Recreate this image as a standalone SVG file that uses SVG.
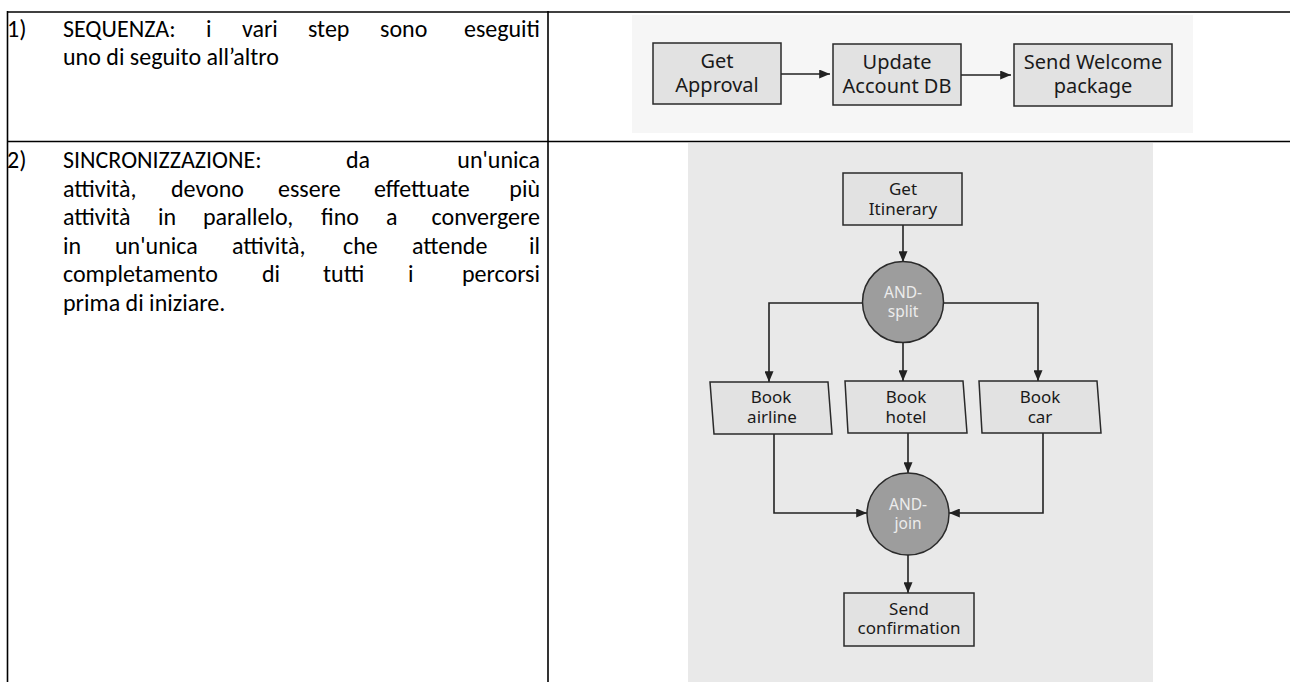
<svg xmlns="http://www.w3.org/2000/svg" width="1290" height="682" viewBox="0 0 1290 682">
<style>
.body{font-family:Carlito,Lato,"Open Sans",sans-serif;font-size:24px;fill:#000}
.end{text-anchor:end}
.grid{stroke:#000;stroke-width:1.6;fill:none}
.box{fill:#e2e2e2;stroke:#2a2a2a;stroke-width:1.5}
.lbl{font-family:"Noto Sans","Open Sans",sans-serif;fill:#1a1a1a;text-anchor:middle}
.l1{font-size:20px}
.l2{font-size:17px}
.gate{fill:#9d9d9d;stroke:#2a2a2a;stroke-width:1.5}
.gtxt{font-family:"Noto Sans","Open Sans",sans-serif;font-size:15.5px;fill:#ececec;text-anchor:middle}
.edge{stroke:#222;stroke-width:1.6;fill:none;marker-end:url(#ah)}
</style>
<defs>
<marker id="ah" viewBox="0 0 12 10" refX="12" refY="5" markerWidth="12" markerHeight="9" markerUnits="userSpaceOnUse" orient="auto">
<path d="M0,0 L12,5 L0,10 z" fill="#222"/>
</marker>
</defs>
<rect width="1290" height="682" fill="#fff"/>
<g id="scan-backgrounds">
<rect x="632" y="15" width="561" height="118" fill="#f6f6f6"/>
<rect x="688" y="143" width="465" height="539" fill="#e9e9e9"/>
</g>
<g id="table">
<line class="grid" x1="7.5" y1="11" x2="7.5" y2="682"/>
<line class="grid" x1="7" y1="12" x2="1290" y2="12"/>
<line class="grid" x1="7" y1="141.5" x2="1290" y2="141.5"/>
<line class="grid" x1="548" y1="11" x2="548" y2="682"/>
</g>
<g id="text-row1">
<text class="body" x="7" y="37">1)</text>
<text class="body" y="37"><tspan x="63">SEQUENZA:</tspan><tspan x="206">i</tspan><tspan x="242">vari</tspan><tspan x="308">step</tspan><tspan x="380">sono</tspan></text>
<text class="body end" x="540" y="37">eseguiti</text>
<text class="body" x="63" y="65">uno di seguito all’altro</text>
</g>
<g id="text-row2">
<text class="body" x="7" y="168">2)</text>
<text class="body" y="168"><tspan x="63">SINCRONIZZAZIONE:</tspan><tspan x="346">da</tspan></text>
<text class="body end" x="540" y="168">un'unica</text>
<text class="body" y="196.5"><tspan x="63">attività,</tspan><tspan x="171">devono</tspan><tspan x="278">essere</tspan><tspan x="374">effettuate</tspan></text>
<text class="body end" x="540" y="196.5">più</text>
<text class="body" y="225"><tspan x="63">attività</tspan><tspan x="158">in</tspan><tspan x="203">parallelo,</tspan><tspan x="321">fino</tspan><tspan x="386">a</tspan></text>
<text class="body end" x="540" y="225">convergere</text>
<text class="body" y="253.5"><tspan x="63">in</tspan><tspan x="115">un'unica</tspan><tspan x="232">attività,</tspan><tspan x="343">che</tspan><tspan x="412">attende</tspan></text>
<text class="body end" x="540" y="253.5">il</text>
<text class="body" y="282"><tspan x="63">completamento</tspan><tspan x="262">di</tspan><tspan x="323">tutti</tspan><tspan x="408">i</tspan></text>
<text class="body end" x="540" y="282">percorsi</text>
<text class="body" x="63" y="310.5">prima di iniziare.</text>
</g>
<g id="connectors">
<path class="edge" d="M781,74 H830"/>
<path class="edge" d="M961,75 H1011"/>
<path class="edge" d="M903,225 V262"/>
<path class="edge" d="M863,303 H769 V382"/>
<path class="edge" d="M944,303 H1038 V381"/>
<path class="edge" d="M903,343 V381"/>
<path class="edge" d="M774,434 V513 H867"/>
<path class="edge" d="M908,433 V473"/>
<path class="edge" d="M1043,433 V513 H949"/>
<path class="edge" d="M908,555 V593"/>
</g>
<g id="n-get-approval">
<rect class="box" x="653" y="43" width="128" height="61"/>
<text class="lbl l1" x="717" y="68">Get</text>
<text class="lbl l1" x="717" y="92">Approval</text>
</g>
<g id="n-update-account">
<rect class="box" x="833" y="44" width="128" height="61"/>
<text class="lbl l1" x="897" y="69">Update</text>
<text class="lbl l1" x="897" y="93">Account DB</text>
</g>
<g id="n-send-welcome">
<rect class="box" x="1014" y="44" width="158" height="62"/>
<text class="lbl l1" x="1093" y="69">Send Welcome</text>
<text class="lbl l1" x="1093" y="93">package</text>
</g>
<g id="n-get-itinerary">
<rect class="box" x="843" y="173" width="119" height="52"/>
<text class="lbl l2" x="903" y="195">Get</text>
<text class="lbl l2" x="903" y="215">Itinerary</text>
</g>
<g id="n-and-split">
<circle class="gate" cx="903" cy="302" r="40.5"/>
<text class="gtxt" x="903" y="298">AND-</text>
<text class="gtxt" x="903" y="317">split</text>
</g>
<g id="n-book-airline">
<polygon class="box" points="710,382 828,382 832,434 714,434"/>
<text class="lbl l2" x="771" y="403">Book</text>
<text class="lbl l2" x="772" y="423">airline</text>
</g>
<g id="n-book-hotel">
<polygon class="box" points="845,381 963,381 967,433 848,433"/>
<text class="lbl l2" x="906" y="403">Book</text>
<text class="lbl l2" x="906" y="423">hotel</text>
</g>
<g id="n-book-car">
<polygon class="box" points="979,381 1097,381 1101,433 982,433"/>
<text class="lbl l2" x="1040" y="403">Book</text>
<text class="lbl l2" x="1040" y="423">car</text>
</g>
<g id="n-and-join">
<circle class="gate" cx="908" cy="514" r="41"/>
<text class="gtxt" x="908" y="510">AND-</text>
<text class="gtxt" x="908" y="529">join</text>
</g>
<g id="n-send-confirmation">
<rect class="box" x="844" y="593" width="130" height="53"/>
<text class="lbl l2" x="909" y="615">Send</text>
<text class="lbl l2" x="909" y="634">confirmation</text>
</g>
</svg>
